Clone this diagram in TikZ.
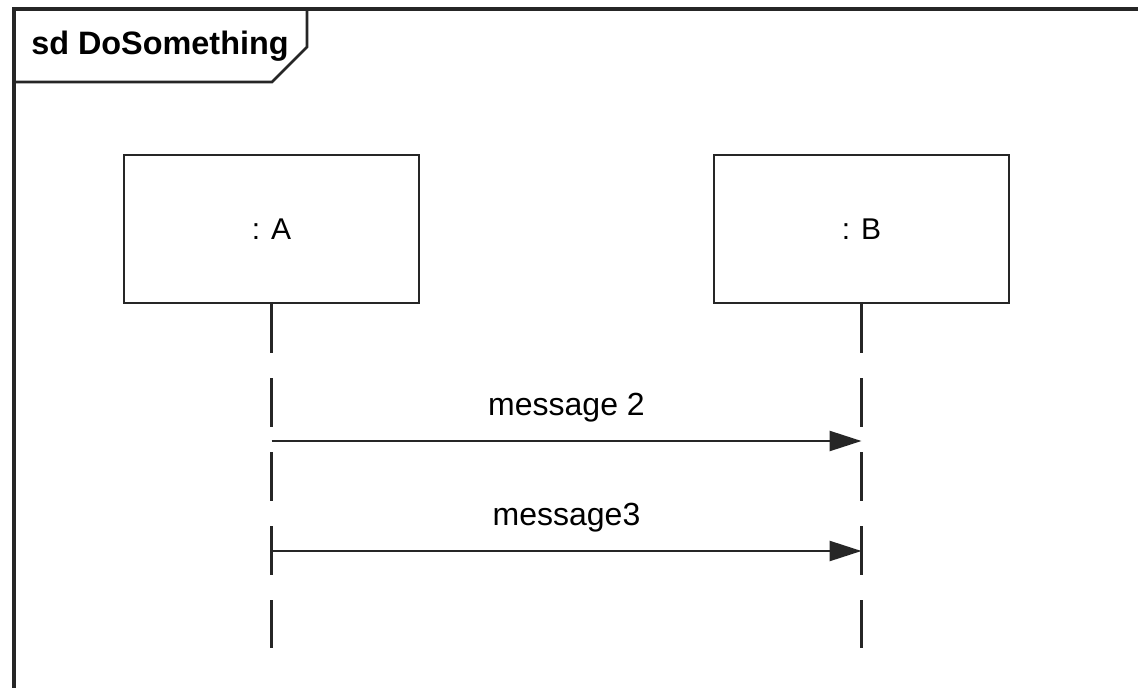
\documentclass[tikz,border=0pt]{standalone}
\usepackage{fontspec}
\setmainfont{Liberation Sans}
\usetikzlibrary{arrows.meta}
\begin{document}
\begin{tikzpicture}[x=0.75pt,y=-0.75pt,
  ink/.style={draw=black!85,line width=2.1pt},
  lifebox/.style={ink,fill=white,minimum width=221.25pt,minimum height=111pt,inner sep=0pt,font=\fontsize{22.5}{26}\selectfont},
  lifeline/.style={draw=black!85,line width=1.9pt,dash pattern=on 36.75pt off 18.75pt},
  msg/.style={draw=black!85,line width=1.9pt,-{Triangle[length=24pt,width=15pt]}},
  msglabel/.style={midway,anchor=base,yshift=19.5pt,font=\fontsize{24}{28}\selectfont}]
\useasboundingbox (0,0) rectangle (1138,688);
\clip (0,0) rectangle (1138,688);
\fill[white] (0,0) rectangle (1138,688);
% diagram frame (extends past the right and bottom edges)
\draw[ink,line width=2.4pt] (14,700) -- (14,9) -- (1150,9);
% frame name tab
\draw[ink,line width=2.1pt] (14,82) -- (272,82) -- (307,47) -- (307,9);
\node[anchor=base west,inner sep=0pt,font=\bfseries\fontsize{24.3}{28}\selectfont] (title) at (31,55) {sd DoSomething};
% lifeline heads
\node[lifebox] (A) at (271.5,229) {: A};
\node[lifebox] (B) at (861.5,229) {: B};
% lifeline ends
\coordinate (Aend) at (271.5,648);
\coordinate (Bend) at (861.5,648);
\draw[lifeline] (A.south) -- (Aend);
\draw[lifeline] (B.south) -- (Bend);
% messages
\coordinate (m2s) at (271.5,441);
\coordinate (m2e) at (861.5,441);
\coordinate (m3s) at (271.5,551);
\coordinate (m3e) at (861.5,551);
\draw[msg] (m2s) -- node[msglabel] {message 2} (m2e);
\draw[msg] (m3s) -- node[msglabel] {message3} (m3e);
\end{tikzpicture}
\end{document}
